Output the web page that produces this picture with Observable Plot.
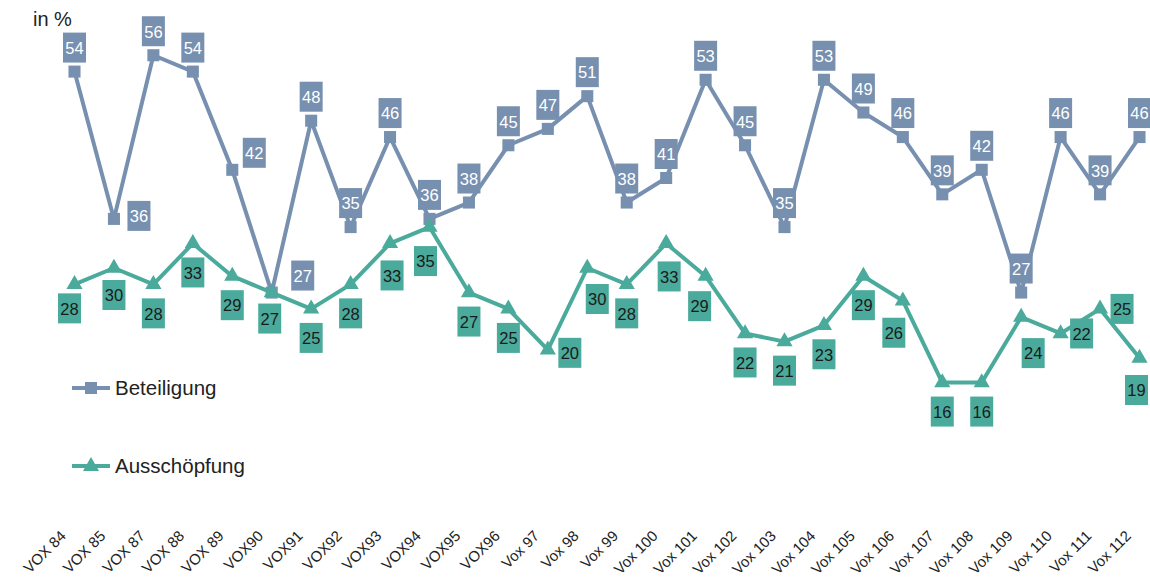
<!DOCTYPE html>
<html><head><meta charset="utf-8">
<script src="https://cdn.jsdelivr.net/npm/d3@7"></script>
<script src="https://cdn.jsdelivr.net/npm/@observablehq/plot@0.6"></script>
<style>
body{margin:0;background:#fff;font-family:"Liberation Sans",Arial,sans-serif;}
#wrap{position:relative;width:1150px;height:583px;}
#unit{position:absolute;left:33px;top:8px;font-size:20px;color:#222;}
#legend{position:absolute;left:72px;top:375px;font-size:20.5px;color:#222;}
.item{display:flex;align-items:center;height:26px;}
.item svg{margin-right:3px;}
</style></head>
<body><div id="wrap"><div id="unit">in %</div><div id="legend"></div></div>
<script>
const categories = ["VOX 84","VOX 85","VOX 87","VOX 88","VOX 89","VOX90","VOX91","VOX92","VOX93","VOX94","VOX95","VOX96","Vox 97","Vox 98","Vox 99","Vox 100","Vox 101","Vox 102","Vox 103","Vox 104","Vox 105","Vox 106","Vox 107","Vox 108","Vox 109","Vox 110","Vox 111","Vox 112"];
const beteiligung = [54,36,56,54,42,27,48,35,46,36,38,45,47,51,38,41,53,45,35,53,49,46,39,42,27,46,39,46];
const ausschoepfung = [28,30,28,33,29,27,25,28,33,35,27,25,20,30,28,33,29,22,21,23,29,26,16,16,24,22,25,19];
const seriesNames = ["Beteiligung","Ausschöpfung"];
const seriesColors = ["#7790b0","#4aaa9b"];
const labelTextColors = ["#ffffff","#1a1a1a"];

const rows = [];
[beteiligung, ausschoepfung].forEach((vals, s) => {
  categories.forEach((c, i) => rows.push({cat: c, value: vals[i], series: seriesNames[s]}));
});

// label placement (pixel offsets) – defaults plus exceptions
const defaultOffset = {"Beteiligung": [0, -24], "Ausschöpfung": [0, 29]};
const offsetExceptions = {
  "Beteiligung": {"VOX 85": [25, -3], "VOX 89": [22, -17], "VOX90": [31, -17]},
  "Ausschöpfung": {"VOX 84": [-5, 24], "VOX 85": [0, 27], "VOX94": [-4, 34], "VOX93": [2, 32], "Vox 97": [22, 3], "Vox 98": [10, 31],
    "Vox 100": [3, 33], "Vox 101": [-6, 30], "Vox 106": [-9, 32], "Vox 109": [12, 36], "Vox 110": [21, 0],
    "Vox 111": [22, 0], "Vox 112": [-3, 32], "VOX90": [-2, 26]}
};
const offsetOf = d => (offsetExceptions[d.series][d.cat] || defaultOffset[d.series]);

const boxSymbol = {draw(ctx) { ctx.rect(-11.5, -15, 23, 30); }};

const marks = [];
seriesNames.forEach((name, s) => {
  const data = rows.filter(d => d.series === name);
  marks.push(Plot.line(data, {x: "cat", y: "value", stroke: seriesColors[s], strokeWidth: 4}));
  marks.push(Plot.dot(data, {x: "cat", y: "value", fill: seriesColors[s], symbol: s === 0 ? "square" : "triangle", r: s === 0 ? 6.8 : 6}));
});
// group labels by offset
const groups = d3.group(rows, d => d.series + "|" + offsetOf(d).join(","));
for (const [key, data] of groups) {
  const s = seriesNames.indexOf(data[0].series);
  const [dx, dy] = offsetOf(data[0]);
  marks.push(Plot.dot(data, {x: "cat", y: "value", dx, dy, symbol: boxSymbol, fill: seriesColors[s]}));
  marks.push(Plot.text(data, {x: "cat", y: "value", dx, dy: dy + 1, text: d => String(d.value), fill: labelTextColors[s], fontSize: 16.5}));
}
marks.push(Plot.axisX({tickRotate: -45, tickSize: 0, tickPadding: 20, dx: -11, fontSize: 15, color: "#222", label: null}));

const chart = Plot.plot({
  width: 1150, height: 583,
  marginLeft: 74, marginRight: 11, marginTop: 22, marginBottom: 70,
  style: {fontFamily: "Liberation Sans, Arial, sans-serif", background: "transparent"},
  x: {type: "point", domain: categories, padding: 0, round: false},
  y: {domain: [0, 60], axis: null},
  marks
});
document.getElementById("wrap").prepend(chart);
chart.style.position = "absolute"; chart.style.left = "0"; chart.style.top = "0";

const legend = document.getElementById("legend");
seriesNames.forEach((name, s) => {
  const item = document.createElement("div");
  item.className = "item";
  item.style.marginBottom = s === 0 ? "52px" : "0";
  const marker = s === 0
    ? `<rect x="13" y="7" width="12" height="12" fill="${seriesColors[s]}"/>`
    : `<polygon points="19,4 27,18 11,18" fill="${seriesColors[s]}"/>`;
  item.innerHTML = `<svg width="40" height="26"><line x1="0" x2="38" y1="13" y2="13" stroke="${seriesColors[s]}" stroke-width="4"/>${marker}</svg><span>${name}</span>`;
  legend.appendChild(item);
});
</script>
</body></html>
